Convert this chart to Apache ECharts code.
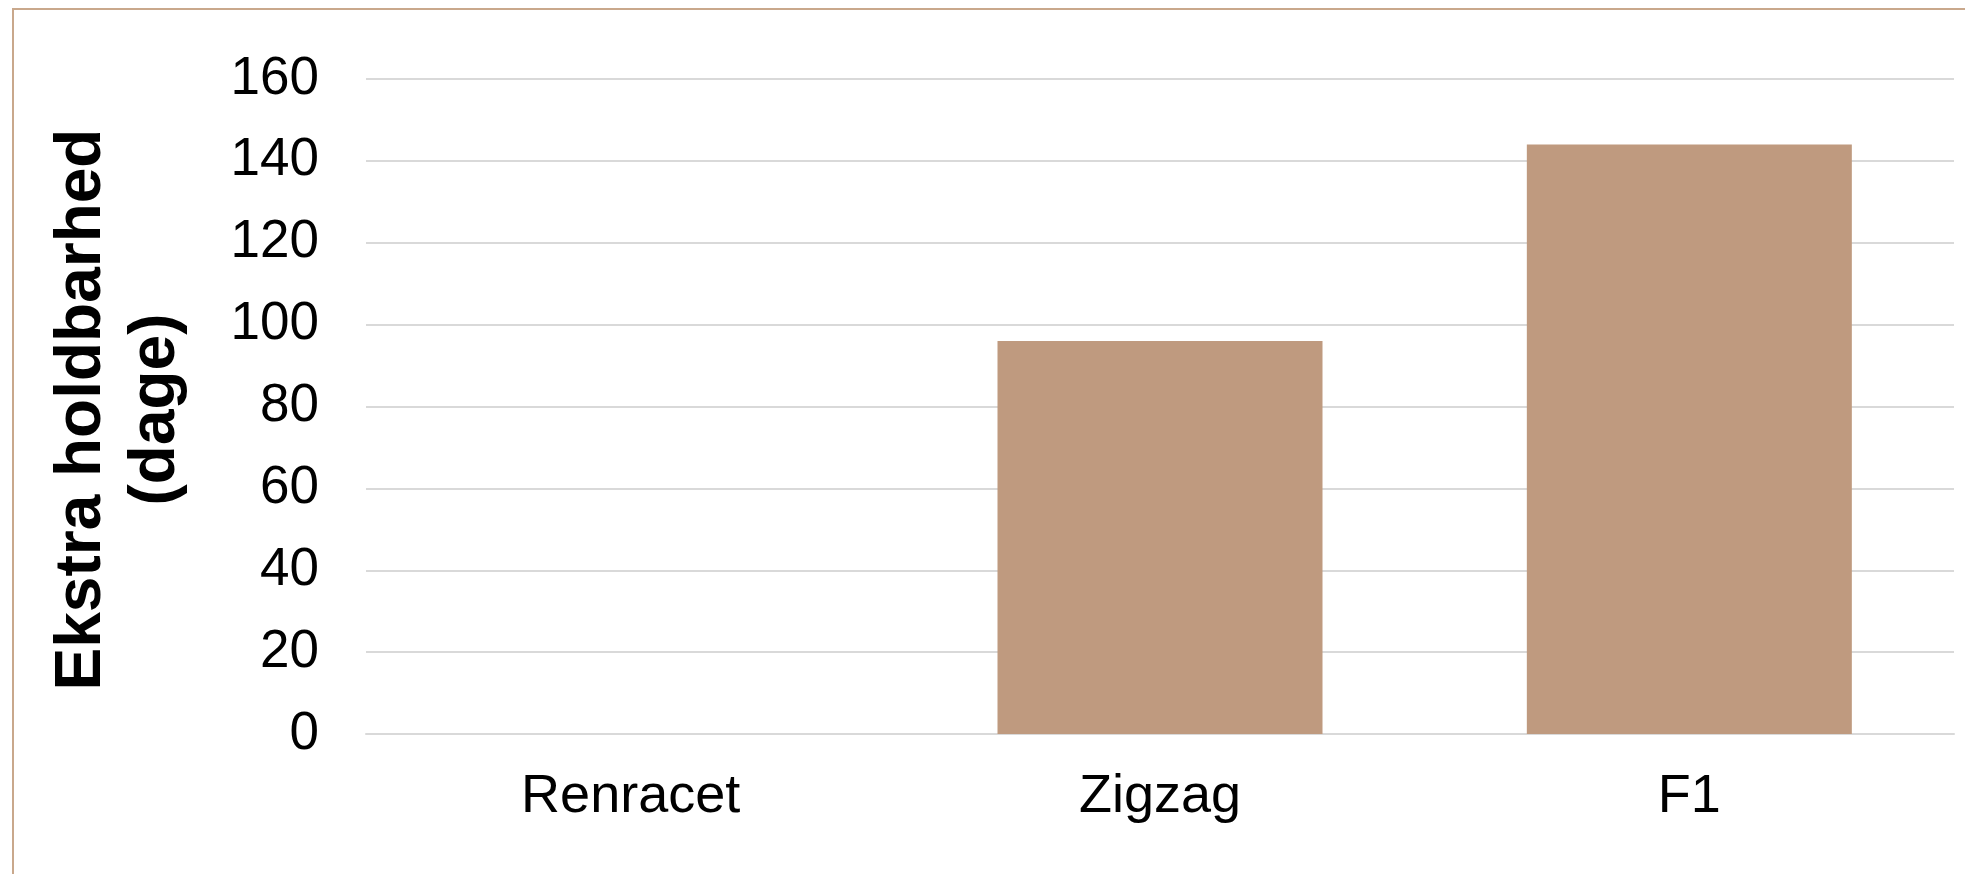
<!DOCTYPE html>
<html>
<head>
<meta charset="utf-8">
<script src="https://cdn.jsdelivr.net/npm/echarts@6/dist/echarts.min.js"></script>
<style>
html,body{margin:0;padding:0;background:#fff;}
#chart{width:1965px;height:874px;}
</style>
</head>
<body>
<div id="chart"></div>
<script>
const categories = ['Renracet', 'Zigzag', 'F1'];
const values = [0, 96, 144];
const yTitle = 'Ekstra holdbarhed\n(dage)';

const FONT = '"Liberation Sans", Arial, sans-serif';
const chart = echarts.init(document.getElementById('chart'), null, {renderer: 'canvas'});
chart.setOption({
  animation: false,
  backgroundColor: '#ffffff',
  graphic: [{
    type: 'rect',
    shape: {x: 13, y: 9, width: 2000, height: 1000},
    style: {fill: 'none', stroke: '#C9A88C', lineWidth: 2},
    silent: true
  }],
  grid: {left: 366, right: 11, top: 79, bottom: 140},
  xAxis: {
    type: 'category',
    data: categories,
    axisLine: {show: true, lineStyle: {color: '#D9D9D9', width: 2}},
    axisTick: {show: false},
    axisLabel: {fontFamily: FONT, fontSize: 54, color: '#000', margin: 36}
  },
  yAxis: {
    type: 'value',
    min: 0, max: 160, interval: 20,
    name: yTitle,
    nameLocation: 'middle',
    nameRotate: 90,
    nameGap: 173,
    nameTextStyle: {fontFamily: FONT, fontSize: 64, fontWeight: 'bold', color: '#000', lineHeight: 74, align: 'center', padding: [0, 6, 0, 0]},
    axisLine: {show: false},
    axisTick: {show: false},
    axisLabel: {fontFamily: FONT, fontSize: 53, color: '#000', margin: 47},
    splitLine: {lineStyle: {color: '#D9D9D9', width: 2}}
  },
  series: [{
    type: 'bar',
    data: values,
    barWidth: 325,
    itemStyle: {color: '#BF9A7F'}
  }]
});
</script>
</body>
</html>
